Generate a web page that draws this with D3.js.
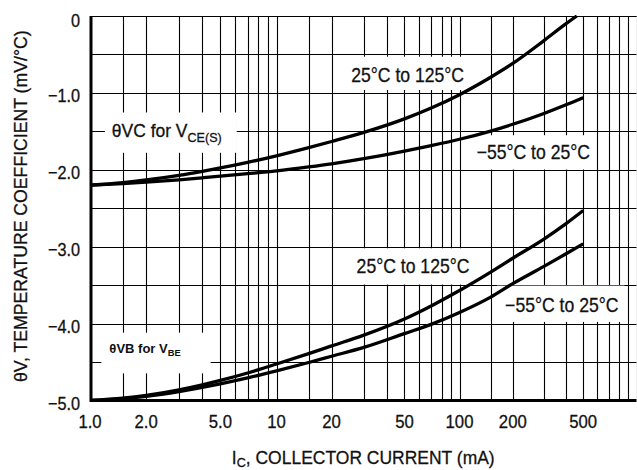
<!DOCTYPE html>
<html><head><meta charset="utf-8">
<script src="https://cdn.jsdelivr.net/npm/d3@7"></script>
<style>body{margin:0;background:#fff}svg{display:block}</style>
</head><body>
<svg id="c" width="637" height="470"></svg>
<script>
// ---- data ----
const currentMA = [1, 1.5, 2, 3, 4, 5, 7, 10, 15, 20, 30, 50, 70, 100, 150, 200, 300, 400, 500];
const vcHotCurrent = [1, 1.5, 2, 3, 4, 5, 7, 10, 15, 20, 30, 50, 70, 100, 150, 200, 300, 400, 460];
const vcHot  = [-2.20, -2.166, -2.132, -2.072, -2.020, -1.976, -1.903, -1.818, -1.712, -1.632, -1.514, -1.338, -1.197, -1.023, -0.796, -0.617, -0.32, -0.10, 0.0];
const vcCold = [-2.20, -2.179, -2.161, -2.130, -2.104, -2.083, -2.050, -2.013, -1.962, -1.922, -1.855, -1.756, -1.685, -1.603, -1.496, -1.408, -1.267, -1.155, -1.061];
const vbHot  = [-5.00, -4.970, -4.934, -4.861, -4.796, -4.739, -4.642, -4.525, -4.39, -4.29, -4.15, -3.94, -3.77, -3.57, -3.33, -3.15, -2.90, -2.70, -2.53];
const vbCold = [-5.00, -4.975, -4.945, -4.884, -4.830, -4.783, -4.706, -4.615, -4.506, -4.425, -4.31, -4.13, -4.01, -3.855, -3.655, -3.48, -3.256, -3.092, -2.963];

const xTickValues = [1, 2, 5, 10, 20, 50, 100, 200, 500];
const xTickLabels = ["1.0", "2.0", "5.0", "10", "20", "50", "100", "200", "500"];
const yTickValues = [0, -1, -2, -3, -4, -5];
const yTickLabels = ["0", "\u22121.0", "\u22122.0", "\u22123.0", "\u22124.0", "\u22125.0"];

const FONT = "'Liberation Sans', Arial, Helvetica, sans-serif";

// ---- scales ----
const x = d3.scaleLog().domain([1, 10, 100, 1000]).range([90, 276.5, 459.5, 636.5]);
const y = d3.scaleLinear().domain([-5, 0]).range([400.5, 16]);
const X0 = x(1), X1 = x(1000), Y0 = y(-5), Y1 = y(0);

const svg = d3.select("#c");
svg.append("defs").append("clipPath").attr("id", "plot")
  .append("rect").attr("x", X0).attr("y", Y1 - 1).attr("width", X1 - X0).attr("height", Y0 - Y1 + 2);

const gGrid = svg.append("g");
const gBox = svg.append("g");
const gCurve = svg.append("g").attr("clip-path", "url(#plot)");
const gText = svg.append("g");
const gAxis = svg.append("g");

// grid
const gridX = [];
[1, 10, 100].forEach(d => [1, 1.5, 2, 3, 4, 5, 6, 7, 8, 9].forEach(m => gridX.push(d * m)));
gridX.push(1000);
const gridY = d3.range(-5, 0.01, 0.5);
const cx = v => Math.round(x(v)) + 0.5;
const cy = v => Math.round(y(v)) + 0.5;
gGrid.selectAll("line.v").data(gridX.slice(1)).join("line")
  .attr("x1", cx).attr("x2", cx).attr("y1", Y1).attr("y2", Y0)
  .attr("stroke", "#000").attr("stroke-width", 1.1);
gGrid.selectAll("line.h").data(gridY.slice(1)).join("line")
  .attr("y1", cy).attr("y2", cy).attr("x1", X0).attr("x2", X1)
  .attr("stroke", "#000").attr("stroke-width", 1.1);

// text helper
function ctext(parent, px, py, segs, o) {
  const size = o.size, sx = o.sx || 1, sh = o.subShift || 0.28;
  const outer = parent.append("g");
  const inner = outer.append("g")
    .attr("transform", `translate(${px},${py}) rotate(${o.rotate || 0}) scale(${sx},1)`);
  const t = inner.append("text").attr("font-family", FONT).attr("font-size", size)
    .attr("text-anchor", o.anchor || "start").attr("font-weight", o.weight || "normal")
    .attr("fill", "#111").attr("stroke", "#111").attr("stroke-width", o.weight ? 0 : 0.3);
  let inSub = false;
  segs.forEach(s => {
    const sub = Array.isArray(s);
    const str = sub ? s[0] : s;
    const ts = t.append("tspan").text(str);
    if (sub && !inSub) { ts.attr("dy", size * sh).attr("font-size", size * 0.72); inSub = true; }
    else if (sub) { ts.attr("font-size", size * 0.72); }
    else if (!sub && inSub) { ts.attr("dy", -size * sh); inSub = false; }
  });
  return outer;
}

// ticks
xTickValues.forEach((v, i) => ctext(gText, x(v), 427.5, [xTickLabels[i]], {size: 19, sx: 0.88, anchor: "middle"}));
yTickValues.forEach((v, i) => ctext(gText, 80, y(v) + (v === 0 ? 11 : 9), [yTickLabels[i]], {size: 18.5, sx: 0.88, anchor: "end"}));

// axis titles
ctext(gText, (X0 + X1) / 2, 464, ["I", ["C"], ", COLLECTOR CURRENT (mA)"], {size: 19, sx: 0.92, anchor: "middle", subShift: 0.14});
ctext(gText, 27, (Y0 + Y1) / 2 - 2, ["\u03B8V, TEMPERATURE COEFFICIENT (mV/\u00B0C)"], {size: 19, sx: 0.93, anchor: "middle", rotate: -90});

// annotations (positioned in data space)
const notes = [
  {t: ["\u03B8VC for V", ["CE(S)"]], at: [1.31, -1.57], size: 18, sx: 0.97, pad: [7, 8, 15, 8]},
  {t: ["25\u00B0C to 125\u00B0C"], at: [25.6, -0.855], size: 20, sx: 0.88, pad: [8, 7, 6, 4]},
  {t: ["\u221255\u00B0C to 25\u00B0C"], at: [125, -1.863], size: 20, sx: 0.88, pad: [8, 6, 5, 6]},
  {t: ["25\u00B0C to 125\u00B0C"], at: [27.4, -3.346], size: 20, sx: 0.88, pad: [8, 7, 6, 7]},
  {t: ["\u221255\u00B0C to 25\u00B0C"], at: [181, -3.845], size: 20, sx: 0.88, pad: [8, 8, 6, 6]},
  {t: ["\u03B8VB for V", ["BE"]], at: [1.27, -4.378], size: 13, sx: 1, weight: "bold", pad: [8, 8, 30, 15]}
];
notes.forEach(n => {
  const g = ctext(gText, x(n.at[0]), y(n.at[1]), n.t, {size: n.size, sx: n.sx, weight: n.weight});
  const b = g.node().getBBox();
  gBox.append("rect").attr("x", b.x - n.pad[0]).attr("y", b.y - n.pad[1])
    .attr("width", b.width + n.pad[0] + n.pad[2]).attr("height", b.height + n.pad[1] + n.pad[3])
    .attr("fill", "#fff");
});

// curves
const line = d3.line().x(d => x(d[0])).y(d => y(d[1])).curve(d3.curveMonotoneX);
const series = [
  d3.zip(vcHotCurrent, vcHot),
  d3.zip(currentMA, vcCold),
  d3.zip(currentMA, vbHot),
  d3.zip(currentMA, vbCold)
];
gCurve.selectAll("path").data(series).join("path")
  .attr("d", line).attr("fill", "none").attr("stroke", "#000")
  .attr("stroke-width", 3.3).attr("stroke-linecap", "butt").attr("stroke-linejoin", "round");

// frame
gAxis.append("line").attr("x1", X0).attr("x2", X1).attr("y1", Math.round(Y1) + 0.5).attr("y2", Math.round(Y1) + 0.5)
  .attr("stroke", "#000").attr("stroke-width", 1.2);
gAxis.append("line").attr("x1", X0 + 1).attr("x2", X0 + 1).attr("y1", Y1).attr("y2", Y0 + 1.5)
  .attr("stroke", "#000").attr("stroke-width", 3);
gAxis.append("line").attr("x1", X0).attr("x2", X1).attr("y1", Y0).attr("y2", Y0)
  .attr("stroke", "#000").attr("stroke-width", 3);
</script>
</body></html>
